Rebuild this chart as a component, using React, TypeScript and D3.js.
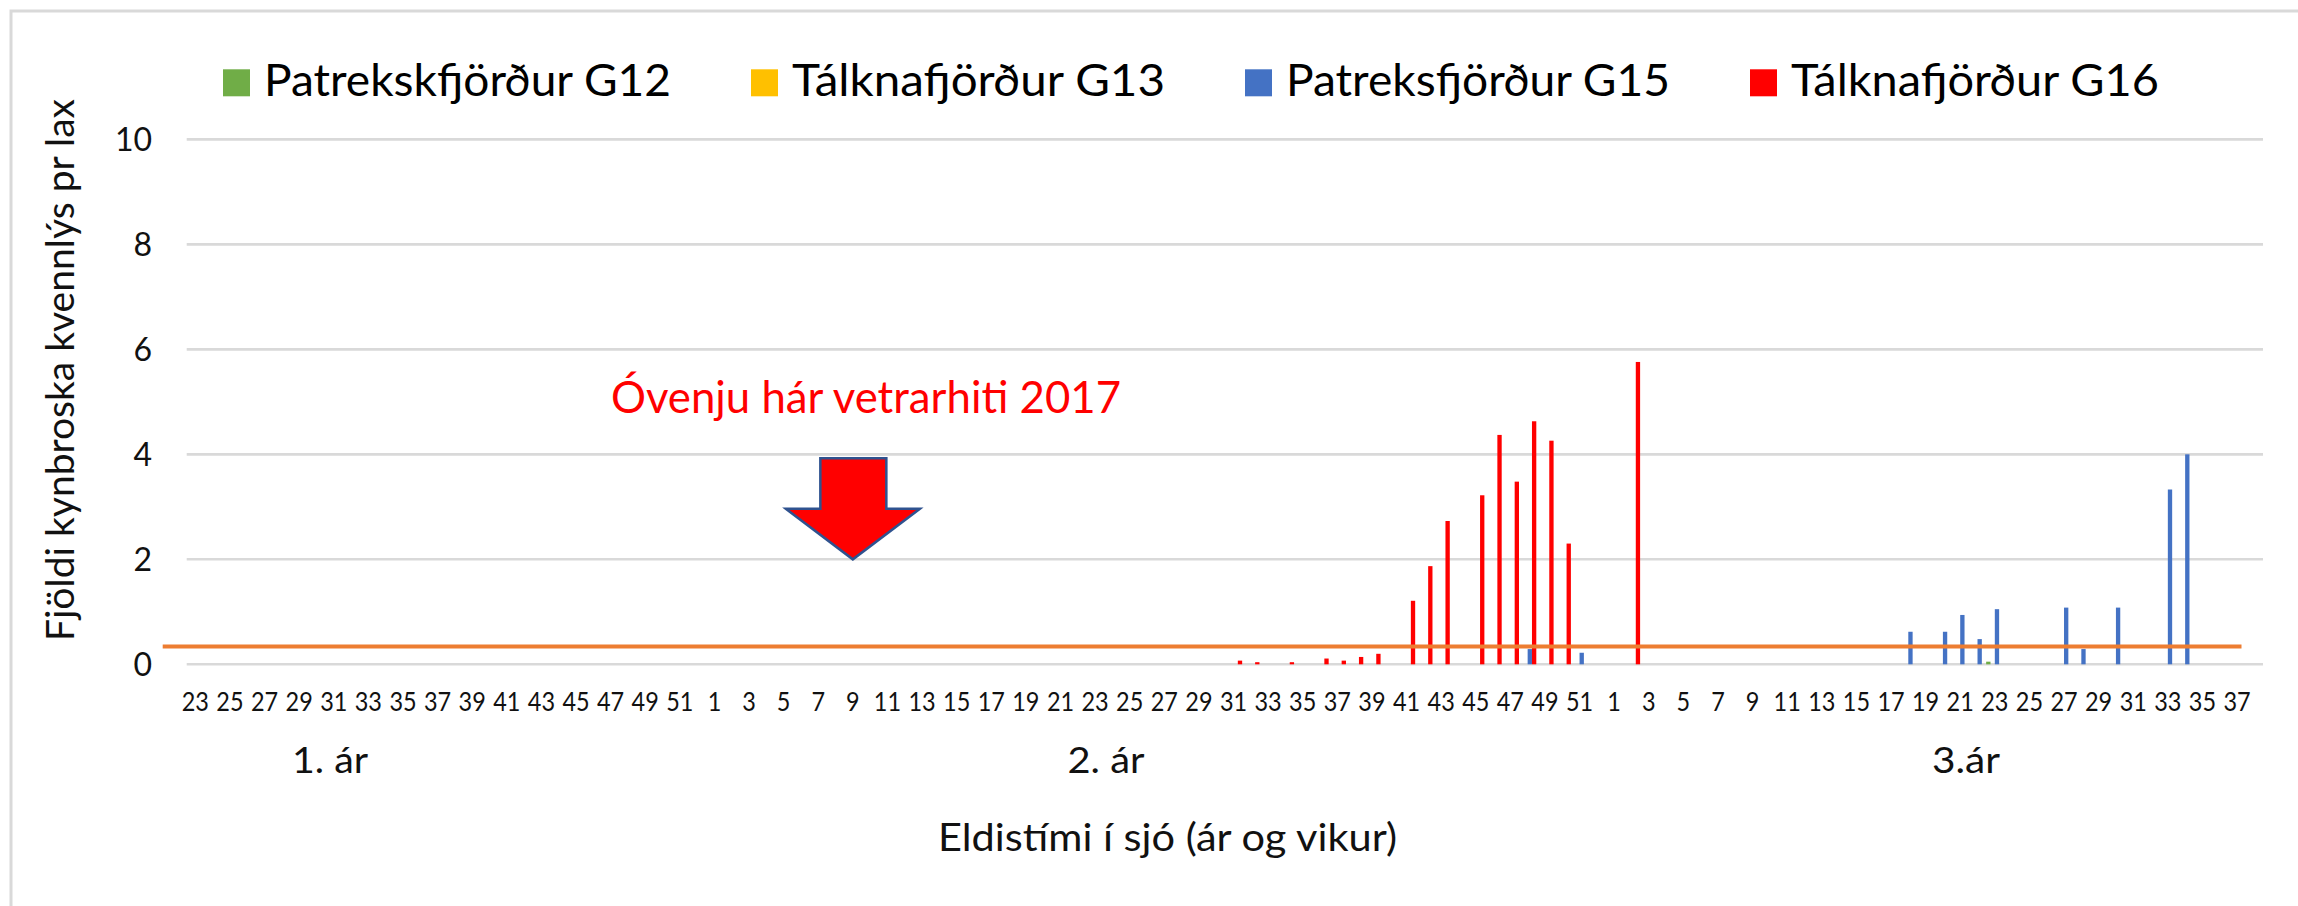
import React from "react";
import * as d3 from "d3";

const WIDTH = 2298;
const HEIGHT = 906;

// ---- categories: sea-farming weeks over three years ----
const seasonYears = [1, 2, 3];
const seasonFirstWeek = [23, 1, 1];
const seasonLastWeek = [52, 52, 38];
const yearLabels = ["1. ár", "2. ár", "3.ár"];

// ---- series ----
const seriesNames = [
  "Patrekskfjörður G12",
  "Tálknafjörður G13",
  "Patreksfjörður G15",
  "Tálknafjörður G16",
];
const seriesColors = ["#70AD47", "#FFC000", "#4472C4", "#FF0000"];

// week keys are "year-week"
const g12Weeks = ["3-23"];
const g12Values = [0.05];

const g13Weeks: string[] = [];
const g13Values: number[] = [];

const g15Weeks = ["2-48", "2-51", "3-18", "3-20", "3-21", "3-22", "3-23", "3-27", "3-28", "3-30", "3-33", "3-34"];
const g15Values = [0.29, 0.22, 0.62, 0.62, 0.94, 0.48, 1.05, 1.08, 0.29, 1.08, 3.33, 4.0];

const g16Weeks = ["2-31", "2-32", "2-34", "2-36", "2-37", "2-38", "2-39", "2-41", "2-42", "2-43", "2-45", "2-46", "2-47", "2-48", "2-49", "2-50", "3-2"];
const g16Values = [0.07, 0.04, 0.04, 0.11, 0.07, 0.14, 0.2, 1.21, 1.87, 2.73, 3.22, 4.37, 3.48, 4.63, 4.26, 2.3, 5.76];

const yTicks = [0, 2, 4, 6, 8, 10];
const thresholdValue = 0.34;

const yAxisTitle = "Fjöldi kynbroska kvennlýs pr lax";
const xAxisTitle = "Eldistími í sjó (ár og vikur)";
const annotationText = "Óvenju hár vetrarhiti 2017";
const annotationWeek = "2-9";
const annotationValue = 2;

// ---- derived tables ----
const categories = seasonYears.flatMap((yr, i) =>
  d3.range(seasonFirstWeek[i], seasonLastWeek[i] + 1).map((w) => ({ key: `${yr}-${w}`, week: w }))
);
const seriesWeeks = [g12Weeks, g13Weeks, g15Weeks, g16Weeks];
const seriesValues = [g12Values, g13Values, g15Values, g16Values];

const FONT = "Lato, 'Open Sans', 'Noto Sans', sans-serif";
const TEXT = "#111";

export default function App() {
  const plotLeft = 186.7;
  const plotRight = 2263;
  const x = d3
    .scaleBand<string>()
    .domain(categories.map((c) => c.key))
    .range([plotLeft, plotRight])
    .padding(0);
  const sub = d3.scaleBand<string>().domain(seriesNames).range([0, x.bandwidth()]).padding(0);
  const y = d3.scaleLinear().domain([0, 10]).range([664.3, 139.4]);

  const bars = seriesNames.flatMap((name, si) =>
    seriesWeeks[si].map((wk, i) => ({ name, color: seriesColors[si], key: wk, value: seriesValues[si][i] }))
  );

  // legend layout
  const legendTextWidths = [407, 373, 384, 368];
  const legendStart = 223;
  const swatch = 27;
  const swatchGap = 14;
  const itemGap = 80;
  let lx = legendStart;
  const legendItems = seriesNames.map((n, i) => {
    const item = { name: n, color: seriesColors[i], x: lx, tw: legendTextWidths[i] };
    lx += swatch + swatchGap + legendTextWidths[i] + itemGap;
    return item;
  });

  const tipX = (x(annotationWeek) as number) + x.bandwidth() / 2;
  const tipY = y(annotationValue);
  const arrowPts = [
    [tipX - 32.5, tipY - 101],
    [tipX + 33.5, tipY - 101],
    [tipX + 33.5, tipY - 50.5],
    [tipX + 67, tipY - 50.5],
    [tipX, tipY],
    [tipX - 67, tipY - 50.5],
    [tipX - 32.5, tipY - 50.5],
  ];

  const yearLabelX = [330, 1106, 1966];
  const yearLabelW = [76, 77, 68];

  return (
    <svg
      width={WIDTH}
      height={HEIGHT}
      style={{ position: "absolute", left: 0, top: 0, display: "block", background: "#fff" }}
    >
      <rect x={0} y={0} width={WIDTH} height={HEIGHT} fill="#fff" />
      <rect x={11} y={11} width={2400} height={1000} fill="none" stroke="#D9D9D9" strokeWidth={3} />

      {/* gridlines */}
      {yTicks.map((t) => (
        <line key={t} x1={plotLeft} x2={plotRight} y1={y(t)} y2={y(t)} stroke="#D9D9D9" strokeWidth={2.6} />
      ))}

      {/* y tick labels */}
      {yTicks.map((t) => (
        <text
          key={"yl" + t}
          x={152}
          y={y(t) + 11.5}
          textAnchor="end"
          fontFamily={FONT}
          fontSize={32}
          fill={TEXT}
        >
          {t}
        </text>
      ))}

      {/* bars */}
      {bars.map((b, i) => (
        <rect
          key={i}
          x={(x(b.key) as number) + (sub(b.name) as number)}
          y={y(b.value)}
          width={sub.bandwidth()}
          height={y(0) - y(b.value)}
          fill={b.color}
        />
      ))}

      {/* threshold line */}
      <line
        x1={plotLeft - 24}
        x2={plotRight - 21.5}
        y1={y(thresholdValue)}
        y2={y(thresholdValue)}
        stroke="#ED7D31"
        strokeWidth={4}
      />

      {/* x tick labels */}
      {categories.map((c, i) =>
        i % 2 === 0 ? (
          <text
            key={"xl" + c.key}
            x={(x(c.key) as number) + x.bandwidth() / 2}
            y={710.7}
            textAnchor="middle"
            fontFamily={FONT}
            fontSize={26.5}
            fill={TEXT}
            textLength={String(c.week).length * 13.6}
            lengthAdjust="spacingAndGlyphs"
          >
            {c.week}
          </text>
        ) : null
      )}

      {/* year labels */}
      {yearLabels.map((l, i) => (
        <text
          key={l}
          x={yearLabelX[i]}
          y={772.7}
          textAnchor="middle"
          fontFamily={FONT}
          fontSize={37}
          fill={TEXT}
          textLength={yearLabelW[i]}
          lengthAdjust="spacingAndGlyphs"
        >
          {l}
        </text>
      ))}

      {/* axis titles */}
      <text
        x={1167.5}
        y={851}
        textAnchor="middle"
        fontFamily={FONT}
        fontSize={38.5}
        fill={TEXT}
        textLength={459}
        lengthAdjust="spacingAndGlyphs"
      >
        {xAxisTitle}
      </text>
      <text
        transform={`translate(74,370) rotate(-90)`}
        textAnchor="middle"
        fontFamily={FONT}
        fontSize={38}
        fill={TEXT}
        textLength={542}
        lengthAdjust="spacingAndGlyphs"
      >
        {yAxisTitle}
      </text>

      {/* legend */}
      {legendItems.map((it) => (
        <g key={it.name}>
          <rect x={it.x} y={69.3} width={swatch} height={swatch} fill={it.color} />
          <text
            x={it.x + swatch + swatchGap}
            y={96}
            fontFamily={FONT}
            fontSize={43.5}
            fill="#000"
            textLength={it.tw}
            lengthAdjust="spacingAndGlyphs"
          >
            {it.name}
          </text>
        </g>
      ))}

      {/* annotation */}
      <text
        x={611}
        y={413}
        fontFamily={FONT}
        fontSize={43.5}
        fill="#FF0000"
        textLength={510}
        lengthAdjust="spacingAndGlyphs"
      >
        {annotationText}
      </text>
      <polygon
        points={arrowPts.map((p) => p.join(",")).join(" ")}
        fill="#FF0000"
        stroke="#2F528F"
        strokeWidth={2.5}
        strokeLinejoin="miter"
      />
    </svg>
  );
}
